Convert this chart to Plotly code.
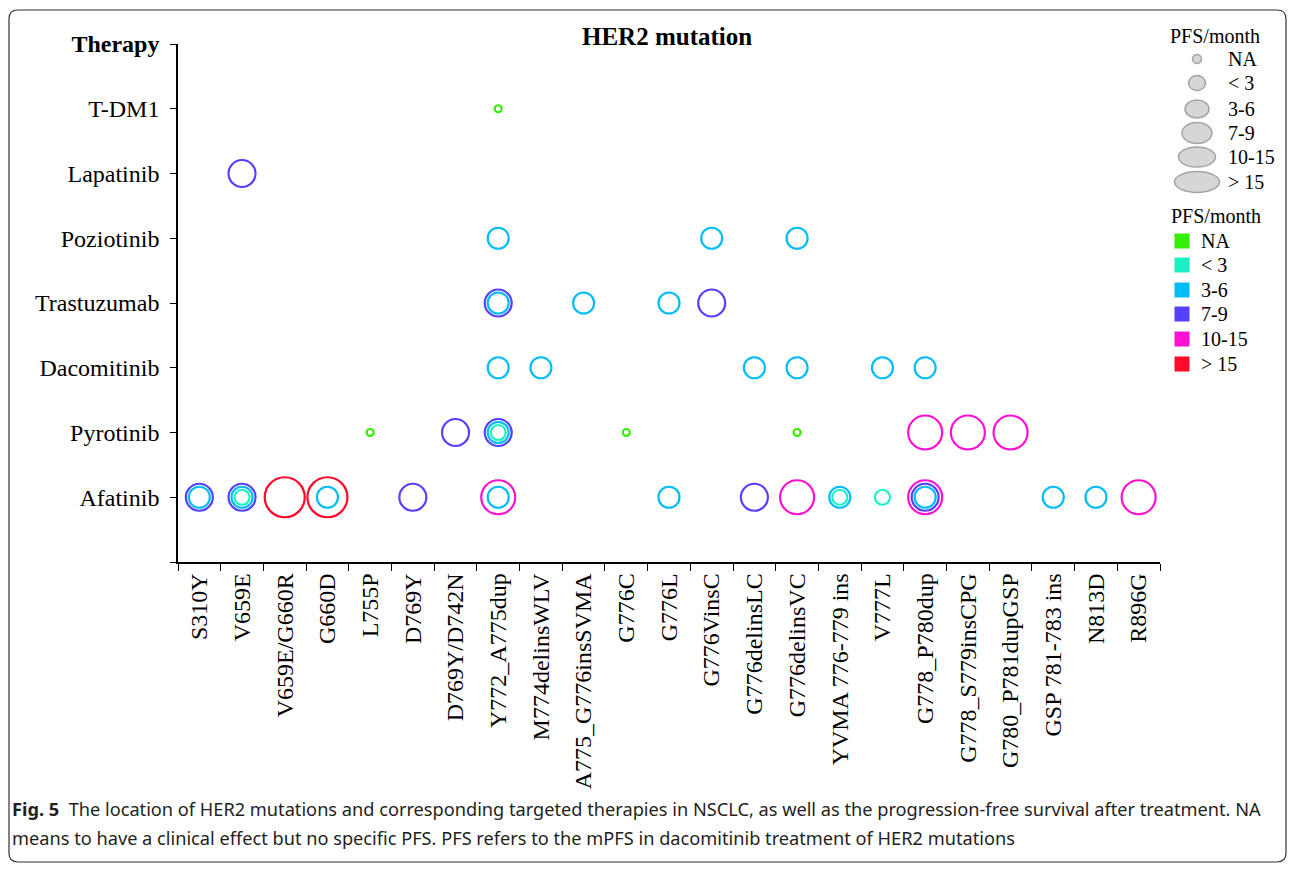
import plotly.graph_objects as go

# ---------------- data ----------------
mutations = ["S310Y", "V659E", "V659E/G660R", "G660D", "L755P", "D769Y", "D769Y/D742N",
             "Y772_A775dup", "M774delinsWLV", "A775_G776insSVMA", "G776C", "G776L",
             "G776VinsC", "G776delinsLC", "G776delinsVC", "YVMA 776-779 ins", "V777L",
             "G778_P780dup", "G778_S779insCPG", "G780_P781dupGSP", "GSP 781-783 ins",
             "N813D", "R896G"]
therapies = ["Afatinib", "Pyrotinib", "Dacomitinib", "Trastuzumab", "Poziotinib",
             "Lapatinib", "T-DM1"]
pfs_classes = ["NA", "< 3", "3-6", "7-9", "10-15", "> 15"]
pfs_colors = ["#33f000", "#19f0c3", "#00bdf8", "#5540ff", "#ff10d2", "#ff0a2a"]

pt_mutation = ["Y772_A775dup",
               "V659E",
               "Y772_A775dup", "G776VinsC", "G776delinsVC",
               "Y772_A775dup", "Y772_A775dup", "A775_G776insSVMA", "G776L", "G776VinsC",
               "Y772_A775dup", "M774delinsWLV", "G776delinsLC", "G776delinsVC", "V777L", "G778_P780dup",
               "L755P", "D769Y/D742N", "Y772_A775dup", "Y772_A775dup", "Y772_A775dup", "G776C",
               "G776delinsVC", "G778_P780dup", "G778_S779insCPG", "G780_P781dupGSP",
               "S310Y", "S310Y", "V659E", "V659E", "V659E", "V659E/G660R", "G660D", "G660D",
               "D769Y", "Y772_A775dup", "Y772_A775dup", "G776L", "G776delinsLC", "G776delinsVC",
               "YVMA 776-779 ins", "YVMA 776-779 ins", "V777L", "G778_P780dup", "G778_P780dup",
               "G778_P780dup", "GSP 781-783 ins", "N813D", "R896G"]
pt_therapy = ["T-DM1",
              "Lapatinib",
              "Poziotinib", "Poziotinib", "Poziotinib",
              "Trastuzumab", "Trastuzumab", "Trastuzumab", "Trastuzumab", "Trastuzumab",
              "Dacomitinib", "Dacomitinib", "Dacomitinib", "Dacomitinib", "Dacomitinib", "Dacomitinib",
              "Pyrotinib", "Pyrotinib", "Pyrotinib", "Pyrotinib", "Pyrotinib", "Pyrotinib",
              "Pyrotinib", "Pyrotinib", "Pyrotinib", "Pyrotinib",
              "Afatinib", "Afatinib", "Afatinib", "Afatinib", "Afatinib", "Afatinib", "Afatinib", "Afatinib",
              "Afatinib", "Afatinib", "Afatinib", "Afatinib", "Afatinib", "Afatinib",
              "Afatinib", "Afatinib", "Afatinib", "Afatinib", "Afatinib",
              "Afatinib", "Afatinib", "Afatinib", "Afatinib"]
pt_pfs = ["NA",
          "7-9",
          "3-6", "3-6", "3-6",
          "7-9", "3-6", "3-6", "3-6", "7-9",
          "3-6", "3-6", "3-6", "3-6", "3-6", "3-6",
          "NA", "7-9", "7-9", "3-6", "< 3", "NA",
          "NA", "10-15", "10-15", "10-15",
          "7-9", "3-6", "7-9", "3-6", "< 3", "> 15", "> 15", "3-6",
          "7-9", "10-15", "3-6", "3-6", "7-9", "10-15",
          "3-6", "< 3", "< 3", "10-15", "7-9",
          "3-6", "3-6", "3-6", "10-15"]

# ---------------- style ----------------
marker_size = {"NA": 7, "< 3": 15, "3-6": 21, "7-9": 27, "10-15": 34, "> 15": 40}
legend_ellipse = {"NA": (9, 9), "< 3": (17, 15), "3-6": (24, 18), "7-9": (30, 21),
                  "10-15": (37, 20), "> 15": (45, 21)}
SERIF = "Liberation Serif, Times New Roman, serif"

OFF = 8                      # page body margin
W, H = 1279, 855             # figure size (page = W+16 x H+16)
L, R, T, B = 178, 1160, 44, 562   # plot area in screenshot pixels


def px(x):
    return (x - L) / (R - L)


def py(y):
    return (B - y) / (B - T)


ypos = {t: i + 1 for i, t in enumerate(therapies)}

fig = go.Figure()
for cls, col in zip(pfs_classes, pfs_colors):
    xs = [m for m, p in zip(pt_mutation, pt_pfs) if p == cls]
    ys = [ypos[t] for t, p in zip(pt_therapy, pt_pfs) if p == cls]
    fig.add_trace(go.Scatter(
        x=xs, y=ys, mode="markers", name=cls, showlegend=False,
        marker=dict(symbol="circle-open", size=marker_size[cls], color=col,
                    line=dict(width=2.2, color=col)),
    ))

shapes = []
annotations = []

# outer rounded frame
x0, y0, x1, y1, r = 9, 10, 1286, 862, 9
path = (f"M {px(x0 + r)},{py(y0)} L {px(x1 - r)},{py(y0)} Q {px(x1)},{py(y0)} {px(x1)},{py(y0 + r)} "
        f"L {px(x1)},{py(y1 - r)} Q {px(x1)},{py(y1)} {px(x1 - r)},{py(y1)} "
        f"L {px(x0 + r)},{py(y1)} Q {px(x0)},{py(y1)} {px(x0)},{py(y1 - r)} "
        f"L {px(x0)},{py(y0 + r)} Q {px(x0)},{py(y0)} {px(x0 + r)},{py(y0)} Z")
shapes.append(dict(type="path", xref="paper", yref="paper", path=path,
                   line=dict(color="#333333", width=1.2), fillcolor="rgba(0,0,0,0)"))

# size legend
annotations.append(dict(text="PFS/month", x=px(1215), y=py(36), xref="paper", yref="paper",
                        showarrow=False, xanchor="center", yanchor="middle",
                        font=dict(family=SERIF, size=20, color="black")))
size_cy = [59, 83, 109, 133, 157, 182]
for cls, cy in zip(pfs_classes, size_cy):
    w, h = legend_ellipse[cls]
    shapes.append(dict(type="circle", xref="paper", yref="paper",
                       xsizemode="pixel", ysizemode="pixel",
                       xanchor=px(1197), yanchor=py(cy),
                       x0=-w / 2, x1=w / 2, y0=-h / 2, y1=h / 2,
                       fillcolor="#d6d6d6", line=dict(color="#a4a4a4", width=1.5)))
    annotations.append(dict(text=cls, x=px(1226), y=py(cy), xref="paper", yref="paper",
                            showarrow=False, xanchor="left", yanchor="middle",
                            font=dict(family=SERIF, size=20, color="black")))

# colour legend
annotations.append(dict(text="PFS/month", x=px(1216), y=py(216), xref="paper", yref="paper",
                        showarrow=False, xanchor="center", yanchor="middle",
                        font=dict(family=SERIF, size=20, color="black")))
col_cy = [241, 265, 290, 314, 339, 364]
for cls, col, cy in zip(pfs_classes, pfs_colors, col_cy):
    shapes.append(dict(type="rect", xref="paper", yref="paper",
                       xsizemode="pixel", ysizemode="pixel",
                       xanchor=px(1182), yanchor=py(cy),
                       x0=-7.5, x1=7.5, y0=-7.5, y1=7.5,
                       fillcolor=col, line=dict(width=0)))
    annotations.append(dict(text=cls, x=px(1199), y=py(cy), xref="paper", yref="paper",
                            showarrow=False, xanchor="left", yanchor="middle",
                            font=dict(family=SERIF, size=20, color="black")))

# title
annotations.append(dict(text="<b>HER2 mutation</b>", x=px(667), y=py(37), xref="paper", yref="paper",
                        showarrow=False, xanchor="center", yanchor="middle",
                        font=dict(family=SERIF, size=25, color="black")))

# caption
cap1 = ("<b>Fig. 5</b>  The location of HER2 mutations and corresponding targeted therapies in NSCLC, "
        "as well as the progression-free survival after treatment. NA")
cap2 = "means to have a clinical effect but no specific PFS. PFS refers to the mPFS in dacomitinib treatment of HER2 mutations"
annotations.append(dict(text=cap1, x=px(10), y=py(809), xref="paper", yref="paper",
                        showarrow=False, xanchor="left", yanchor="middle",
                        font=dict(family="Noto Sans, sans-serif", size=18.2, color="#231f20")))
annotations.append(dict(text=cap2, x=px(10), y=py(838), xref="paper", yref="paper",
                        showarrow=False, xanchor="left", yanchor="middle",
                        font=dict(family="Noto Sans, sans-serif", size=18.2, color="#231f20")))

fig.update_layout(
    width=W, height=H,
    margin=dict(l=L - OFF, r=(OFF + W) - R, t=T - OFF, b=(OFF + H) - B),
    plot_bgcolor="white", paper_bgcolor="white",
    shapes=shapes, annotations=annotations,
    xaxis=dict(type="category", categoryorder="array", categoryarray=mutations,
               range=[-0.5, len(mutations) - 0.5], tickson="boundaries",
               ticks="outside", ticklen=7, tickcolor="black", tickwidth=1.3,
               showline=True, linecolor="black", linewidth=1.5,
               showgrid=False, zeroline=False, tickangle=-90,
               tickfont=dict(family=SERIF, size=24, color="black")),
    yaxis=dict(range=[0, 8], tickmode="array",
               tickvals=[0] + [ypos[t] for t in therapies] + [8],
               ticktext=[""] + therapies + ["<b>Therapy</b>"],
               ticks="outside", ticklen=6, tickcolor="black", tickwidth=1.3,
               ticklabelstandoff=6,
               showline=True, linecolor="black", linewidth=1.5,
               showgrid=False, zeroline=False,
               tickfont=dict(family=SERIF, size=24, color="black")),
)

fig.write_html("out.html")
